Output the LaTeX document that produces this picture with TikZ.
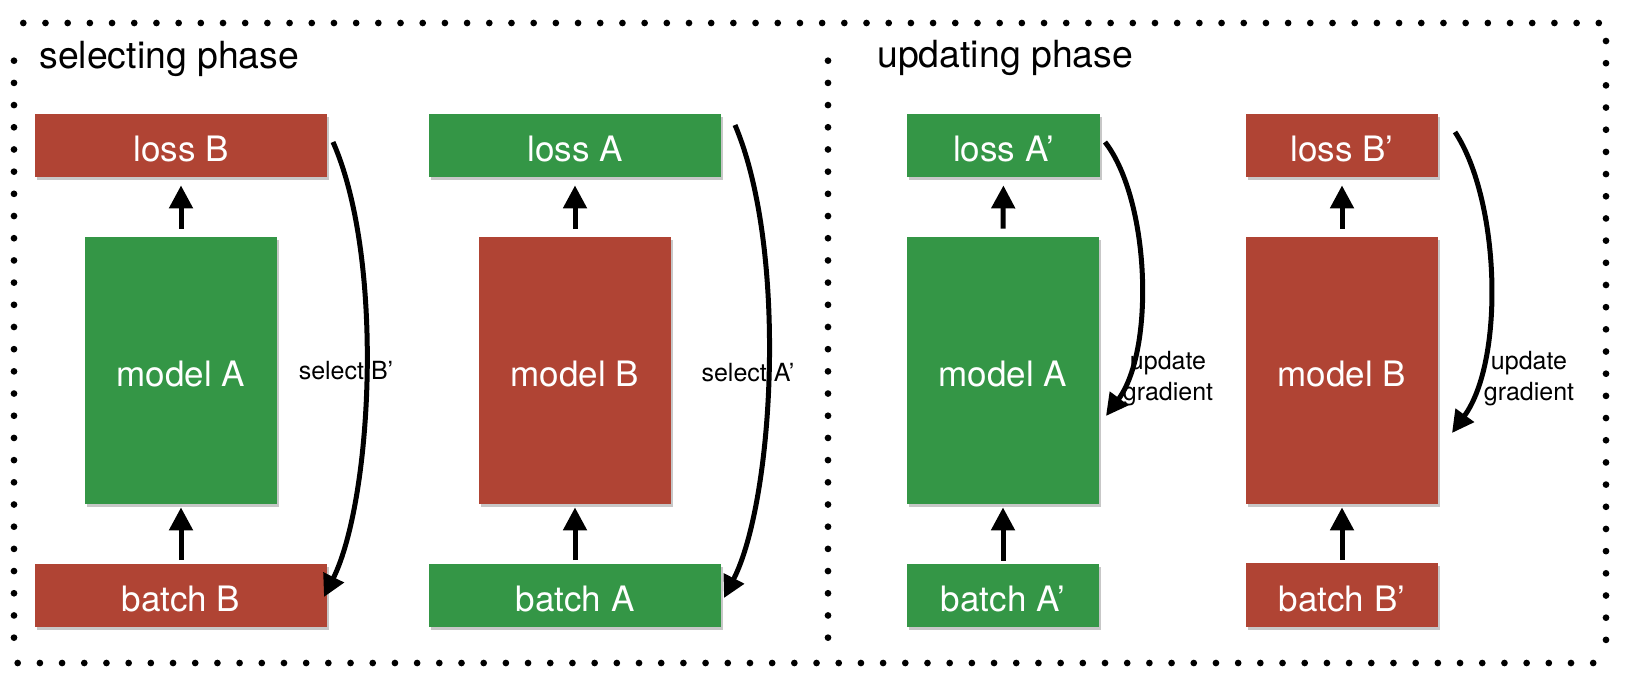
\documentclass[tikz,border=0pt]{standalone}
\usepackage{fontspec}
\setmainfont{TeX Gyre Heros}
\usetikzlibrary{arrows.meta,shadows}
\definecolor{boxred}{RGB}{176,68,52}
\definecolor{boxgreen}{RGB}{52,150,70}
\tikzset{
  box/.style={rectangle, inner sep=0pt, text=white, font=\fontsize{17.5}{20}\selectfont,
    text height=16pt, text depth=0pt,
    drop shadow={shadow xshift=1pt, shadow yshift=-1.5pt, opacity=0.22, fill=black}},
  redbox/.style={box, fill=boxred},
  greenbox/.style={box, fill=boxgreen},
  wide/.style={minimum width=146pt, minimum height=31.5pt},
  wideA/.style={minimum width=96.5pt, minimum height=31.5pt},
  tall/.style={minimum width=96pt, minimum height=133.5pt},
  uparrow/.style={line width=2.5pt, -{Triangle[width=11.5pt,length=11.5pt]}},
  curvearrow/.style={line width=2.5pt, -{Triangle[width=11pt,length=11pt]}},
  lbl/.style={font=\fontsize{12.5}{15.5}\selectfont, align=center, inner sep=0pt},
  ttl/.style={font=\fontsize{18.7}{22}\selectfont, anchor=base west, inner sep=0pt},
  dot/.style={fill=black}
}
\begin{document}
\begin{tikzpicture}[x=0.5pt,y=-0.5pt]
\useasboundingbox (0,0) rectangle (1630,692);
% dotted frame
\foreach \i in {0,...,71} \fill[dot] (23.3+\i*22.19,23) circle[radius=3.35];
\foreach \i in {0,...,71} \fill[dot] (17.7+\i*22.19,663) circle[radius=3.35];
\foreach \i in {0,...,27} \fill[dot] (1606,41+\i*22.18) circle[radius=3.35];
\foreach \i in {0,...,26} \fill[dot] (14,60.7+\i*22.19) circle[radius=3.35];
\foreach \i in {0,...,26} \fill[dot] (828,60.7+\i*22.19) circle[radius=3.35];
% titles
\node[ttl] (t1) at (39,68) {selecting phase};
\node[ttl] (t2) at (877,67) {updating phase};
% selecting phase boxes
\node[redbox,wide] (lossB) at (181,145.5) {loss B};
\node[greenbox,tall] (modelA) at (181,370.5) {model A};
\node[redbox,wide] (batchB) at (181,595) {batch B};
\node[greenbox,wide] (lossA) at (575,145.5) {loss A};
\node[redbox,tall] (modelB) at (575,370.5) {model B};
\node[greenbox,wide] (batchA) at (575,595) {batch A};
% updating phase boxes
\node[greenbox,wideA] (lossAp) at (1003.5,145.5) {loss A’};
\node[greenbox,tall] (modelAp) at (1003,370.5) {model A};
\node[greenbox,tall,minimum height=31.5pt] (batchAp) at (1003,595.5) {batch A’};
\node[redbox,tall,minimum height=31.5pt] (lossBp) at (1342,145.5) {loss B’};
\node[redbox,tall] (modelBp) at (1342,370.5) {model B};
\node[redbox,tall,minimum height=32pt] (batchBp) at (1342,595) {batch B’};
% vertical arrows
\foreach \m/\l/\b in {modelA/lossB/batchB, modelB/lossA/batchA, modelAp/lossAp/batchAp, modelBp/lossBp/batchBp}{
  \draw[uparrow, shorten <=4pt, shorten >=4pt] (\m.north) -- (\l.south);
  \draw[uparrow, shorten <=1.5pt, shorten >=1.5pt] (\b.north) -- (\m.south);
}
% curve end points
\coordinate (sB1) at (333,142);
\coordinate (sB2) at (324,597);
\coordinate (sA1) at (735,125);
\coordinate (sA2) at (724,598);
\coordinate (uA1) at (1105,142);
\coordinate (uA2) at (1106,416);
\coordinate (uB1) at (1455,132);
\coordinate (uB2) at (1452,433);
\draw[curvearrow] (sB1) .. controls (385,260) and (372,500) .. (sB2);
\draw[curvearrow] (sA1) .. controls (788,250) and (774,500) .. (sA2);
\draw[curvearrow] (uA1) .. controls (1150,200) and (1155,350) .. (uA2);
\draw[curvearrow] (uB1) .. controls (1500,200) and (1505,360) .. (uB2);
% labels
\node[lbl] (l1) at (346,371) {select B’};
\node[lbl] (l2) at (748,373) {select A’};
\node[lbl] (l3) at (1168,379) {update\\gradient};
\node[lbl] (l4) at (1529,379) {update\\gradient};
\end{tikzpicture}
\end{document}
